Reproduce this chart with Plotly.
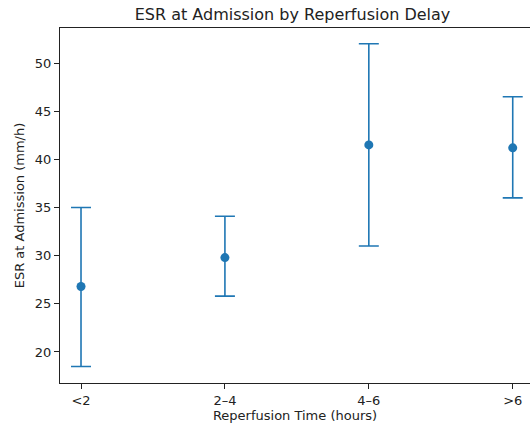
import plotly.graph_objects as go

categories = ["<2", "2–4", "4–6", ">6"]
mean_esr = [26.8, 29.8, 41.5, 41.2]
lower_esr = [18.5, 25.8, 31.0, 36.0]
upper_esr = [35.0, 34.1, 52.0, 46.5]

err_plus = [u - m for u, m in zip(upper_esr, mean_esr)]
err_minus = [m - l for m, l in zip(mean_esr, lower_esr)]

xpos = list(range(len(categories)))
color = "#1f77b4"
font = "DejaVu Sans"

W, H = 530, 425

fig = go.Figure()
fig.add_trace(go.Scatter(
    x=xpos, y=mean_esr, mode="markers",
    marker=dict(color=color, size=9),
    error_y=dict(type="data", symmetric=False, array=err_plus, arrayminus=err_minus,
                 color=color, thickness=1.6, width=10),
    showlegend=False,
))

fig.update_layout(
    width=W, height=H,
    margin=dict(l=60, r=0, t=28, b=42),
    plot_bgcolor="white", paper_bgcolor="white",
    font=dict(family=font, size=13, color="#222"),
    title=dict(text="ESR at Admission by Reperfusion Delay", x=0.4947, xref="paper",
               xanchor="center", y=1 - 14 / H, yanchor="middle",
               font=dict(size=16, family=font, color="#222")),
    xaxis=dict(range=[-0.146, 3.12], tickmode="array", tickvals=xpos, ticktext=categories,
               showline=True, linecolor="#222", linewidth=1, mirror=True, automargin=False,
               ticks="outside", ticklen=5, tickcolor="#222", showgrid=False, zeroline=False,
               tickfont=dict(size=13),
               title=dict(text="Reperfusion Time (hours)", font=dict(size=13), standoff=3)),
    yaxis=dict(range=[16.78, 53.64], tickmode="array", tickvals=[20, 25, 30, 35, 40, 45, 50],
               showline=True, linecolor="#222", linewidth=1, mirror=False, automargin=False,
               ticks="outside", ticklen=5, tickcolor="#222", showgrid=False, zeroline=False,
               tickfont=dict(size=13),
               title=dict(text="ESR at Admission (mm/h)", font=dict(size=13), standoff=7)),
)

fig.write_html("out.html", config={"displayModeBar": False},
               post_script="document.body.style.margin='0px';")
